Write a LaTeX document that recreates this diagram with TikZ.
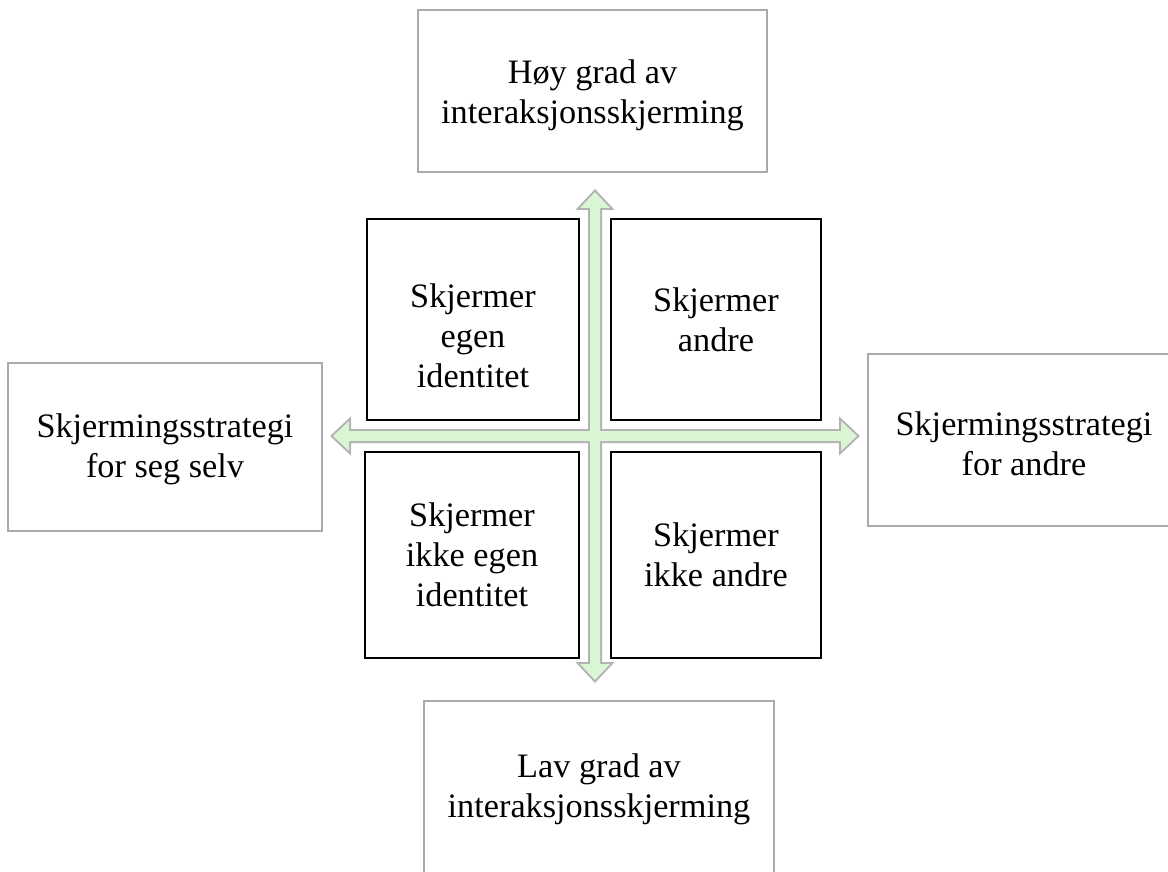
\documentclass[tikz,border=0pt]{standalone}
\usepackage{fontspec}
\setmainfont{Liberation Serif}
\usepackage{tikz}
\definecolor{boxgray}{RGB}{170,170,170}
\definecolor{axisgray}{RGB}{178,178,178}
\definecolor{axisgreen}{RGB}{219,246,213}
\def\haxis{(333,436) -- (349,421) -- (349,431) -- (841,431) -- (841,421) -- (857,436) -- (841,451) -- (841,441) -- (349,441) -- (349,451) -- cycle}
\def\vaxis{(595,192) -- (610,208) -- (600,208) -- (600,664) -- (610,664) -- (595,680) -- (580,664) -- (590,664) -- (590,208) -- (580,208) -- cycle}

\begin{document}
\begin{tikzpicture}[x=0.02cm, y=-0.02cm,
		outer/.style={draw=boxgray, line width=1.1pt, inner sep=0pt},
		cell/.style={draw=black, line width=1.1pt, inner sep=0pt},
		txt/.style={align=center, inner sep=0pt, font=\fontsize{19.5pt}{22.8pt}\selectfont}]
			%%%%% START %%%%%
			
			\useasboundingbox (0,0) rectangle (1168,871);
			\clip (0,0) rectangle (1168,871);
			
			% the four outer boxes
			\node[outer, minimum width=6.98cm, minimum height=3.24cm] (high) at (592.5,91) {};
			\node[outer, minimum width=7cm, minimum height=3.44cm] (low) at (599,787) {};
			\node[outer, minimum width=6.28cm, minimum height=3.36cm] (self) at (165,447) {};
			\node[outer, minimum width=6.24cm, minimum height=3.44cm] (others) at (1024,440) {};
			
			\node[txt] (hightxt) at ([yshift=-0.08cm]high) {Høy grad av\\interaksjonsskjerming};
			\node[txt] (lowtxt) at ([yshift=-0.05cm]low) {Lav grad av\\interaksjonsskjerming};
			\node[txt] (selftxt) at ([yshift=-0.05cm]self) {Skjermingsstrategi\\for seg selv};
			\node[txt] (otherstxt) at ([yshift=-0.08cm]others) {Skjermingsstrategi\\for andre};
			
			% the axes
			\draw[axisgray, line width=0.08cm] \haxis;
			\draw[axisgray, line width=0.08cm] \vaxis;
			\fill[axisgreen] \haxis;
			\fill[axisgreen] \vaxis;
			
			% the four quadrants
			\node[cell, minimum width=4.24cm, minimum height=4.02cm] (ownid) at (473,319.5) {};
			\node[cell, minimum width=4.2cm, minimum height=4.02cm] (shield) at (716,319.5) {};
			\node[cell, minimum width=4.28cm, minimum height=4.12cm] (noownid) at (472,555) {};
			\node[cell, minimum width=4.2cm, minimum height=4.12cm] (noshield) at (716,555) {};
			
			\node[txt] (ownidtxt) at ([yshift=-0.33cm]ownid) {Skjermer\\egen\\identitet};
			\node[txt] (shieldtxt) at (shield) {Skjermer\\andre};
			\node[txt] (noownidtxt) at (noownid) {Skjermer\\ikke egen\\identitet};
			\node[txt] (noshieldtxt) at (noshield) {Skjermer\\ikke andre};
			
			%%%%% END %%%%%
\end{tikzpicture}
\end{document}
